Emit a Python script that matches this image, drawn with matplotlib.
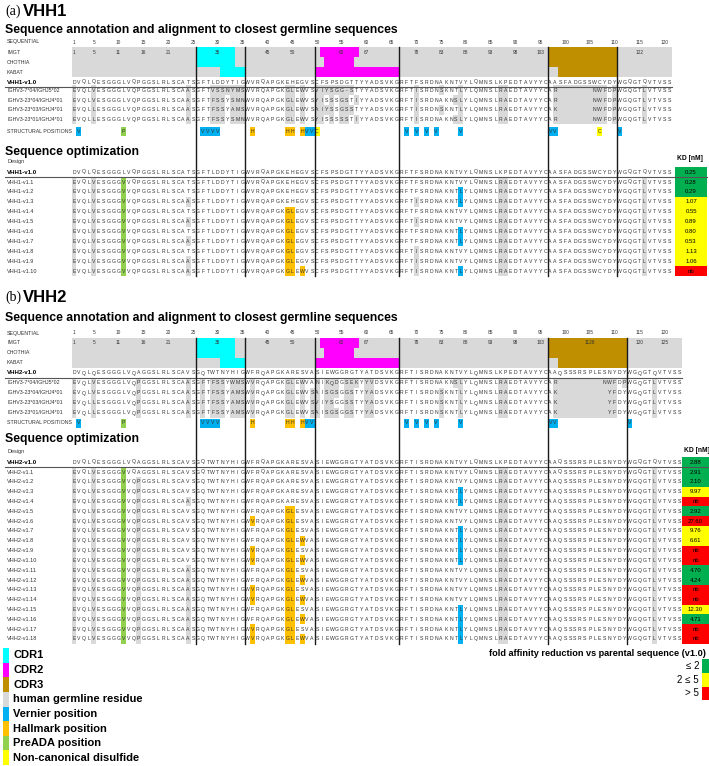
import matplotlib
matplotlib.use("Agg")
import matplotlib.pyplot as plt
from matplotlib.patches import Rectangle

plt.rcParams["font.family"] = ["Liberation Sans", "DejaVu Sans"]

# ---------------- data ----------------
vhh1_parent = ("DVQLQESGGGLVQPGGSLRLSCATS" "GFTLDDYTIG" "WVRQAPGKEHEGVS"
               "CFSPSDGTTYYADSVKG" "RFTFSRDNAKNTVYLQMNSLKPEDTAVYYC"
               "AASFADGSSWCYDY" "WGQGTQVTVSS")
vhh2_parent = ("DVQLQESGGGLVQAGGSLRLSCAVS" "GQTWTNYHIG" "WFRQAPGKARESVA"
               "SIEWGGRGTYATDSVKG" "RFTISRDNAKNTVYLQMNSLKPEDTAVYYC"
               "AAQSSSRSPLESNYDY" "WGQGTQVTVSS")

germ_names = ["IGHV3-7*04/IGHJ5*02", "IGHV3-23*04/IGHJ4*01",
              "IGHV3-23*03/IGHJ4*01", "IGHV3-23*01/IGHJ4*01"]

vhh1_germ_seqs = [
    "EVQLVESGGGLVQPGGSLRLSCAAS" "GFTVSSNYMS" "WVRQAPGKGLEWVS" "VIYSGG-STYYADSVKG"
    "RFTISRDNSKNTLYLQMNSLRAEDTAVYYC" "AR       NWFDP" "WGQGTLVTVSS",
    "EVQLVESGGGLVQPGGSLRLSCAAS" "GFTFSSYSMN" "WVRQAPGKGLEWVS" "YISSSGSTIYYADSVKG"
    "RFTISRDNAKNSLYLQMNSLRAEDTAVYYC" "AR       NWFDP" "WGQGTLVTVSS",
    "EVQLLESGGGLVQPGGSLRLSCAAS" "GFTFSSYAMS" "WVRQAPGKGLEWVS" "AIYSSGSSTYYADSVKG"
    "RFTISRDNSKNTLYLQMNSLRAEDTAVYYC" "AK       NWFDP" "WGQGTLVTVSS",
    "EVQLLESGGGLVQPGGSLRLSCAAS" "GFTFSSYSMN" "WVRQAPGKGLEWVS" "YISSSSSTIYYADSVKG"
    "RFTISRDNAKNSLYLQMNSLRAEDTAVYYC" "AR       NWFDP" "WGQGTLVTVSS",
]
vhh2_germ_seqs = [
    "EVQLVESGGGLVQPGGSLRLSCAAS" "GFTFSSYWMS" "WVRQAPGKGLEWVA" "NIKQDGSEKYYVDSVKG"
    "RFTISRDNAKNSLYLQMNSLRAEDTAVYYC" "AR         NWFDP" "WGQGTLVTVSS",
    "EVQLVESGGGLVQPGGSLRLSCAAS" "GFTFSSYAMS" "WVRQAPGKGLEWVS" "AISGSGGSTYYADSVKG"
    "RFTISRDNSKNTLYLQMNSLRAEDTAVYYC" "AK          YFDY" "WGQGTLVTVSS",
    "EVQLLESGGGLVQPGGSLRLSCAAS" "GFTFSSYAMS" "WVRQAPGKGLEWVS" "VIYSGGSSTYYADSVKG"
    "RFTISRDNSKNTLYLQMNSLRAEDTAVYYC" "AK          YFDY" "WGQGTLVTVSS",
    "EVQLLESGGGLVQPGGSLRLSCAAS" "GFTFSSYAMS" "WVRQAPGKGLEWVS" "AISGSGGSTYYADSVKG"
    "RFTISRDNSKNTLYLQMNSLRAEDTAVYYC" "AK          YFDY" "WGQGTLVTVSS",
]

seq_ticks = [1, 5, 10, 15, 20, 25, 30, 35, 40, 45, 50, 55, 60, 65, 70, 75, 80,
             85, 90, 95, 100, 105, 110, 115, 120]
vhh1_imgt_at = [1, 5, 10, 15, 20, 30, 40, 45, 55, 60, 70, 75, 80, 85, 90, 95, 115]
vhh1_imgt_labels = ["1", "5", "11", "16", "21", "35", "45", "50", "62", "67",
                    "78", "83", "88", "93", "98", "103", "122"]
vhh2_imgt_at = [1, 5, 10, 15, 20, 30, 40, 45, 55, 60, 70, 75, 80, 85, 90, 95, 105, 115, 120]
vhh2_imgt_labels = ["1", "5", "11", "16", "21", "35", "45", "50", "62", "67",
                    "78", "83", "88", "93", "98", "103", "1128", "120", "125"]

# CDR spans (first, last residue) per numbering scheme: IMGT, CHOTHIA, KABAT
vhh1_cdrs = [[(26, 33), (51, 58), (97, 110)],
             [(26, 33), (52, 57), (97, 110)],
             [(31, 35), (50, 66), (99, 110)]]
vhh2_cdrs = [[(26, 33), (51, 58), (97, 112)],
             [(26, 33), (52, 57), (97, 112)],
             [(31, 35), (50, 66), (99, 112)]]
vhh1_blocks = [25, 35, 49, 66, 96, 110]
vhh2_blocks = [25, 35, 49, 66, 96, 112]

vhh1_struct_pos = [2, 11, 27, 28, 29, 30, 37, 44, 45, 47, 48, 49, 50,
                   68, 70, 72, 74, 79, 97, 98, 107, 111]
vhh1_struct_type = ["V", "P", "V", "V", "V", "V", "H", "H", "H", "H", "V", "V", "C",
                    "V", "V", "V", "V", "V", "V", "V", "C", "V"]
vhh2_struct_pos = [2, 11, 27, 28, 29, 30, 37, 44, 45, 47, 48, 49,
                   68, 70, 72, 74, 79, 97, 98, 113]
vhh2_struct_type = ["V", "P", "V", "V", "V", "V", "H", "H", "H", "H", "V", "V",
                    "V", "V", "V", "V", "V", "V", "V", "V"]

# positions whose mutation is coloured by its structural class (others = germline grey)
mut_class = {11: "P", 37: "H", 44: "H", 45: "H", 47: "H", 79: "V"}

vhh1_designs = ["VHH1-v1.%d" % k for k in range(1, 11)]
vhh1_mutations = [
    "E1 V5 V11 R87 A88 L116",
    "E1 V5 V11 L79 R87 A88 L116",
    "E1 V5 V11 A24 I70 L79 R87 A88 L116",
    "E1 V5 V11 G44 L45 R87 A88 L116",
    "E1 V5 V11 A24 G44 L45 I70 R87 A88 L116",
    "E1 V5 V11 G44 L45 L79 R87 A88 L116",
    "E1 V5 V11 A24 G44 L45 L79 R87 A88 L116",
    "E1 V5 V11 G44 L45 I70 R87 A88 L116",
    "E1 V5 V11 A24 G44 L45 I70 R87 A88 L116",
    "E1 V5 V11 A24 G44 L45 W47 I70 L79 R87 A88 L116",
]
vhh1_kd = [0.25, 0.28, 0.29, 1.07, 0.55, 0.89, 0.80, 0.53, 1.13, 1.06, None]

vhh2_designs = ["VHH2-v1.%d" % k for k in range(1, 19)]
vhh2_mutations = [
    "E1 V5 V11 R87 A88 L118",
    "E1 V5 V11 P14 R87 A88 L118",
    "E1 V5 V11 P14 L79 R87 A88 L118",
    "E1 V5 V11 P14 A24 L79 R87 A88 L118",
    "E1 V5 V11 P14 G44 L45 R87 A88 L118",
    "E1 V5 V11 P14 V37 G44 L45 R87 A88 L118",
    "E1 V5 V11 P14 G44 L45 L79 R87 A88 L118",
    "E1 V5 V11 P14 G44 L45 W47 L79 R87 A88 L118",
    "E1 V5 V11 P14 V37 G44 L45 L79 R87 A88 L118",
    "E1 V5 V11 P14 V37 G44 L45 W47 L79 R87 A88 L118",
    "E1 V5 V11 P14 A24 G44 L45 R87 A88 L118",
    "E1 V5 V11 P14 A24 G44 L45 W47 R87 A88 L118",
    "E1 V5 V11 P14 A24 V37 G44 L45 R87 A88 L118",
    "E1 V5 V11 P14 A24 V37 G44 L45 W47 R87 A88 L118",
    "E1 V5 V11 P14 A24 G44 L45 L79 R87 A88 L118",
    "E1 V5 V11 P14 A24 G44 L45 W47 L79 R87 A88 L118",
    "E1 V5 V11 P14 A24 V37 G44 L45 L79 R87 A88 L118",
    "E1 V5 V11 P14 A24 V37 G44 L45 W47 L79 R87 A88 L118",
]
vhh2_kd = [2.88, 2.91, 2.10, 9.97, None, 2.92, 27.60, 9.76, 6.61, None, None,
           4.70, 4.24, None, None, 12.30, 4.71, None, None]

legend_labels = ["CDR1", "CDR2", "CDR3", "human germline residue", "Vernier position",
                 "Hallmark position", "PreADA position", "Non-canonical disulfide"]
fold_labels = ["≤ 2", "2 ≤ 5", "> 5"]

# ---------------- styles ----------------
CDR_COLORS = ["#00ffff", "#ff00ff", "#bf8f00"]
GREY = "#d9d9d9"
CLASS_COLORS = {"V": "#00b0f0", "H": "#ffc000", "P": "#92d050", "C": "#ffff00"}
KD_COLORS = ["#00b050", "#ffff00", "#ff0000"]
LEGEND_COLORS = CDR_COLORS + [GREY, CLASS_COLORS["V"], CLASS_COLORS["H"],
                              CLASS_COLORS["P"], CLASS_COLORS["C"]]
TXT = "#333333"

X0, DX = 74.0, 4.96          # centre of residue 1, pixel width of one residue
AA_SIZE = 3.7


def cx(i):
    return X0 + (i - 1) * DX


def cell(ax, i, y, h, color, w=1):
    ax.add_patch(Rectangle((cx(i) - DX / 2, y - h / 2), DX * w, h,
                           facecolor=color, edgecolor="none", zorder=1))


def residues(ax, seq, y, weight="normal"):
    for i, aa in enumerate(seq, start=1):
        if aa != " ":
            ax.text(cx(i), y, aa, ha="center", va="center", fontsize=AA_SIZE,
                    color=TXT, fontweight=weight, zorder=3)


def kd_color(kd, ref):
    if kd is None:
        return KD_COLORS[2]
    fold = kd / ref
    return KD_COLORS[0] if fold <= 2 else KD_COLORS[1] if fold <= 5 else KD_COLORS[2]


def draw_panel(ax, tag, name, parent, germ_seqs, cdrs, blocks, imgt_at, imgt_labels,
               s_pos, s_type, designs, mutations, kd, L):
    n = len(parent)
    ax.text(5, L["title"], tag, family="Liberation Serif", fontsize=10, va="center")
    ax.text(23, L["title"], name, fontsize=12, fontweight="bold", va="center")
    ax.text(5, L["sub"], "Sequence annotation and alignment to closest germline sequences",
            fontsize=8.8, fontweight="bold", va="center")

    # numbering rows
    ax.text(7, L["num"], "SEQUENTIAL", fontsize=3.8, color=TXT, va="center")
    for t in seq_ticks:
        ax.text(cx(t), L["num"], str(t), fontsize=3.4, ha="center", va="center", color=TXT)
    top = L["ann"]
    ax.add_patch(Rectangle((cx(1) - DX / 2, top), DX * n, 30, facecolor=GREY,
                           edgecolor="none", zorder=0))
    for r, scheme in enumerate(["IMGT", "CHOTHIA", "KABAT"]):
        yc = top + 5 + 10 * r
        ax.text(7, yc, scheme, fontsize=3.8, color=TXT, va="center")
        for (a, b), col in zip(cdrs[r], CDR_COLORS):
            cell(ax, a, yc, 10, col, w=b - a + 1)
    for t, lab in zip(imgt_at, imgt_labels):
        ax.text(cx(t), top + 5, lab, fontsize=3.4, ha="center", va="center", color=TXT, zorder=3)

    # parent + germlines
    ax.text(7, L["v0"], name + "-v1.0", fontsize=4.4, fontweight="bold", va="center")
    residues(ax, parent, L["v0"])
    ax.plot([5, cx(n) + DX / 2], [L["rule1"]] * 2, color="#555555", lw=0.8, zorder=2)
    for k, (gname, g) in enumerate(zip(germ_names, germ_seqs)):
        yc = L["g0"] + k * L["gdy"]
        ax.text(7, yc, gname, fontsize=3.8, color=TXT, va="center")
        for i, (aa, p) in enumerate(zip(g, parent), start=1):
            if aa != p:
                cell(ax, i, yc, L["gdy"], GREY)
        residues(ax, g, yc)

    ax.text(7, L["struct"], "STRUCTURAL POSITIONS", fontsize=3.8, color=TXT, va="center")
    for p, t in zip(s_pos, s_type):
        cell(ax, p, L["struct"], 9, CLASS_COLORS[t])
        ax.text(cx(p), L["struct"], t, fontsize=AA_SIZE, ha="center", va="center",
                color=TXT, zorder=3)

    # optimisation block
    ax.text(5, L["opt"], "Sequence optimization", fontsize=8.8, fontweight="bold", va="center")
    ax.text(7, L["design"], "Design", fontsize=4.0, color=TXT, va="center")
    kx0, kx1 = L["kd"]
    ax.text(kx0 + 2, L["kdhead"], "KD [nM]", fontsize=4.8, fontweight="bold", va="center")
    ax.text(7, L["d0"], name + "-v1.0", fontsize=4.4, fontweight="bold", va="center")
    residues(ax, parent, L["d0"])
    rows = [L["d0"]] + [L["d1"] + k * L["ddy"] for k in range(len(designs))]
    for yc, v in zip(rows, kd):
        ax.add_patch(Rectangle((kx0, yc - L["ddy"] / 2), kx1 - kx0, L["ddy"],
                               facecolor=kd_color(v, kd[0]), edgecolor="none", zorder=1))
        ax.text((kx0 + kx1) / 2, yc, "nb" if v is None else "%.2f" % v, fontsize=4.3,
                ha="center", va="center", zorder=3)
    ax.plot([5, kx1], [L["rule2"]] * 2, color="#555555", lw=0.8, zorder=2)
    for yc, dname, muts in zip(rows[1:], designs, mutations):
        ax.text(7, yc, dname, fontsize=4.0, color=TXT, va="center")
        s = list(parent)
        for m in muts.split():
            pos = int(m[1:])
            s[pos - 1] = m[0]
            col = CLASS_COLORS[mut_class[pos]] if pos in mut_class else GREY
            cell(ax, pos, yc, L["ddy"], col)
        residues(ax, "".join(s), yc)

    for b in blocks:
        xb = cx(b) + DX / 2
        ax.plot([xb, xb], [L["ann"], rows[-1] + 5], color="#1a1a1a", lw=1.0, zorder=4)


fig = plt.figure(figsize=(7.09, 7.66), dpi=100)
ax = fig.add_axes([0, 0, 1, 1])
ax.set_xlim(0, 709)
ax.set_ylim(766, 0)
ax.axis("off")

layout_a = dict(title=11, sub=30, num=42, ann=47, v0=82, rule1=86.5, g0=90.3, gdy=9.75,
                struct=131.5, opt=152, design=162, kdhead=159, d0=172, rule2=177,
                d1=182, ddy=9.9, kd=(675, 707))
layout_b = dict(title=297, sub=318, num=333, ann=338, v0=373, rule1=378, g0=383, gdy=10,
                struct=423, opt=439, design=452, kdhead=451, d0=462, rule2=467,
                d1=472, ddy=9.82, kd=(682, 709))

draw_panel(ax, "(a)", "VHH1", vhh1_parent, vhh1_germ_seqs, vhh1_cdrs, vhh1_blocks,
           vhh1_imgt_at, vhh1_imgt_labels, vhh1_struct_pos, vhh1_struct_type,
           vhh1_designs, vhh1_mutations, vhh1_kd, layout_a)
draw_panel(ax, "(b)", "VHH2", vhh2_parent, vhh2_germ_seqs, vhh2_cdrs, vhh2_blocks,
           vhh2_imgt_at, vhh2_imgt_labels, vhh2_struct_pos, vhh2_struct_type,
           vhh2_designs, vhh2_mutations, vhh2_kd, layout_b)

# colour legend (bottom left)
for k, (lab, col) in enumerate(zip(legend_labels, LEGEND_COLORS)):
    yc = 655.5 + k * 14.6
    ax.add_patch(Rectangle((3, yc - 7.3), 6, 14.6, facecolor=col, edgecolor="none"))
    ax.text(13, yc, lab, fontsize=8, fontweight="bold", va="center")

# fold-change legend (bottom right)
ax.text(706, 653, "fold affinity reduction vs parental sequence (v1.0)", fontsize=6.6,
        fontweight="bold", ha="right", va="center")
for k, (lab, col) in enumerate(zip(fold_labels, KD_COLORS)):
    yc = 666 + k * 13.7
    ax.add_patch(Rectangle((702, yc - 6.85), 6.5, 13.7, facecolor=col, edgecolor="none"))
    ax.text(699, yc, lab, fontsize=7, ha="right", va="center")

fig.savefig("out.png", dpi=100)
